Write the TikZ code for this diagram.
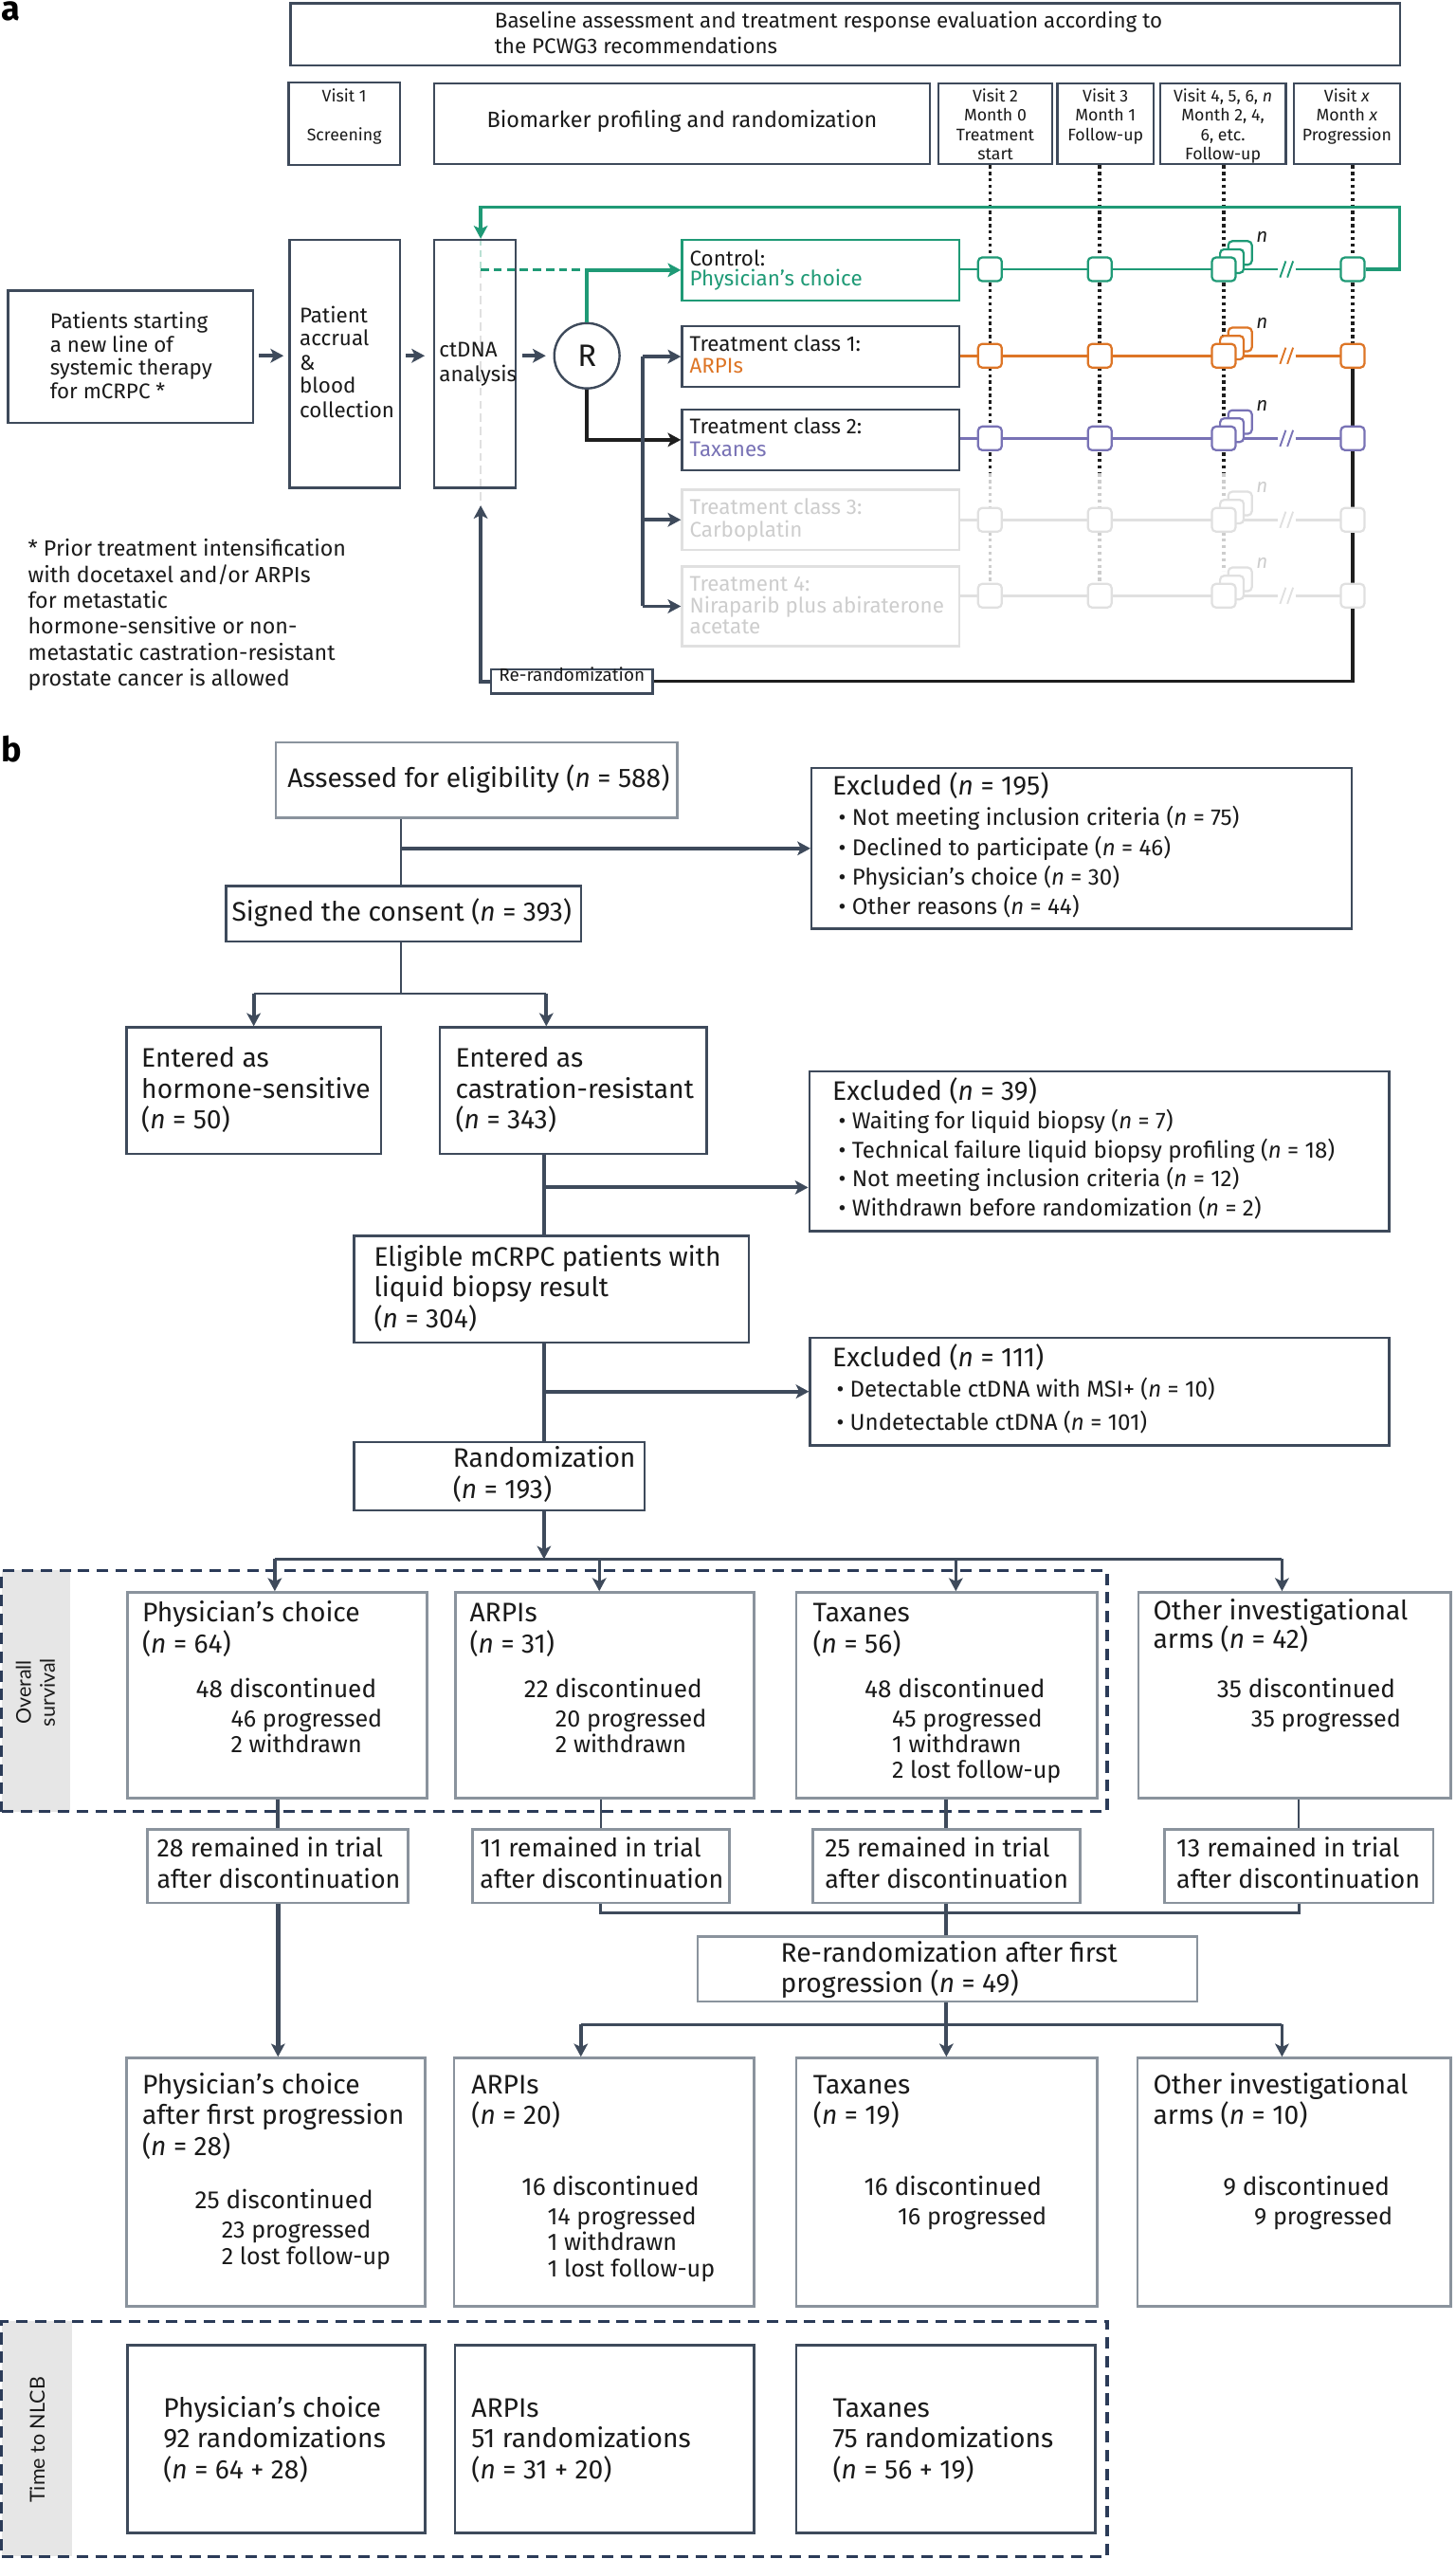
\documentclass[tikz,border=0pt]{standalone}
\usepackage{fontspec}
\setmainfont{Fira Sans}
\newfontfamily\labfont{Lato}
\usetikzlibrary{arrows.meta,fit}
\definecolor{dk}{HTML}{3E4A5B}
\definecolor{lt}{HTML}{8A939D}
\definecolor{navy}{HTML}{2B3B58}
\definecolor{grn}{HTML}{1F9A76}
\definecolor{lgrn}{HTML}{B9E0D3}
\definecolor{org}{HTML}{DD7526}
\definecolor{pur}{HTML}{7872B5}
\definecolor{lgr}{HTML}{E0E0E0}
\definecolor{lgt}{HTML}{CDCDCD}
\definecolor{strip}{HTML}{E6E6E6}
\definecolor{txt}{HTML}{1A1A1A}
\definecolor{blk}{HTML}{1E1E1E}
\pgfdeclarelayer{background}
\pgfsetlayers{background,main}
\tikzset{
 fA/.style={font=\fontsize{13}{15}\selectfont},
 fN/.style={font=\fontsize{13.5}{15}\selectfont},
 fV/.style={font=\fontsize{10.3}{12}\selectfont},
 fB/.style={font=\fontsize{16.4}{18}\selectfont},
 fM/.style={font=\fontsize{15.6}{18}\selectfont},
 fD/.style={font=\fontsize{15.2}{18}\selectfont},
 fS/.style={font=\fontsize{14}{15}\selectfont},
 fP/.style={font=\fontsize{14.6}{15}\selectfont},
 tl/.style={anchor=base west, inner sep=0pt, text=txt},
 tc/.style={anchor=base, inner sep=0pt, text=txt},
 dbox/.style={draw=dk, line width=1.4pt, inner sep=0pt},
 lbox/.style={draw=lt, line width=1.5pt, inner sep=0pt},
 gbox/.style={draw=lgr, line width=1.4pt, inner sep=0pt},
 vsq/.style={draw=#1, fill=white, line width=1.3pt, rounded corners=2.5pt, minimum size=14.5pt, inner sep=0pt},
 ahd/.style={-{Stealth[length=8pt,width=8.5pt,inset=2pt]}},
 darr/.style={draw=dk, line width=2.2pt, ahd},
 ln1/.style={draw=dk, line width=1.4pt},
 ln2/.style={draw=dk, line width=2.4pt},
 dotln/.style={line width=2pt, dash pattern=on 2pt off 2pt},
 osbox/.style={draw=navy, line width=2pt, dash pattern=on 7pt off 4.5pt},
}
\begin{document}
\begin{tikzpicture}[x=1pt,y=-1pt]
\useasboundingbox (0,0) rectangle (892,1568);

% ================= PART A =================
\node[anchor=base west, inner sep=0pt, font=\fontsize{21}{21}\selectfont\bfseries] (la) at (0.5,12.5) {a};

\node[dbox, fit={(178,2) (858,40)}] (base) {};
\node[tl,fA] (bt1) at (303,17.4) {Baseline assessment and treatment response evaluation according to};
\node[tl,fA] (bt2) at (303,33) {the PCWG3 recommendations};

\node[dbox, fit={(177,50.5) (245,101)}] (v1) {};
\node[tc,fV] (v1a) at (211,62.4) {Visit 1};
\node[tc,fV] (v1b) at (211,86.2) {Screening};

\node[dbox, fit={(266,51) (570,100.5)}] (bio) {};
\node[tc,font=\fontsize{13.6}{15}\selectfont] (biot) at (418,78.4) {Biomarker profiling and randomization};

\node[dbox, fit={(575,51) (645,100.5)}] (v2) {};
\node[tc,fV] (v2a) at (610,62.4) {Visit 2};
\node[tc,fV] (v2b) at (610,74.2) {Month 0};
\node[tc,fV] (v2c) at (610,86.4) {Treatment};
\node[tc,fV] (v2d) at (610,97.8) {start};

\node[dbox, fit={(648,51) (707,100.5)}] (v3) {};
\node[tc,fV] (v3a) at (677.5,62.4) {Visit 3};
\node[tc,fV] (v3b) at (677.5,74.2) {Month 1};
\node[tc,fV] (v3c) at (677.5,86.4) {Follow-up};

\node[dbox, fit={(711,51) (788,100.5)}] (v4) {};
\node[tc,fV] (v4a) at (749.5,62.4) {Visit 4, 5, 6, \textit{n}};
\node[tc,fV] (v4b) at (749.5,74.2) {Month 2, 4,};
\node[tc,fV] (v4c) at (749.5,86.4) {6, etc.};
\node[tc,fV] (v4d) at (749.5,97.8) {Follow-up};

\node[dbox, fit={(793,51) (858,100.5)}] (vx) {};
\node[tc,fV] (vxa) at (825.5,62.4) {Visit \textit{x}};
\node[tc,fV] (vxb) at (825.5,74.2) {Month \textit{x}};
\node[tc,fV] (vxc) at (825.5,86.4) {Progression};

% left column
\node[dbox, fit={(5,178) (155,259)}] (pat) {};
\node[tl,fA] (pt1) at (30.5,201.4) {Patients starting};
\node[tl,fA] (pt2) at (30.5,215.6) {a new line of};
\node[tl,fA] (pt3) at (30.5,230) {systemic therapy};
\node[tl,fA] (pt4) at (30.5,244) {for mCRPC *};

\node[dbox, fit={(177.5,147) (245,299)}] (acc) {};
\node[tl,fA] (ac1) at (183.5,197.6) {Patient};
\node[tl,fA] (ac2) at (183.5,212) {accrual};
\node[tl,fA] (ac3) at (183.5,226.6) {\&};
\node[tl,fA] (ac4) at (183.5,241) {blood};
\node[tl,fA] (ac5) at (183.5,255.8) {collection};

\node[dbox, fit={(266,147) (316,299)}] (ctd) {};
\node[tl,fA] (ct1) at (269,219) {ctDNA};
\node[tl,fA] (ct2) at (269,233.7) {analysis};

\node[draw=dk, line width=1.4pt, circle, minimum size=40pt, inner sep=0pt, font=\fontsize{19}{19}\selectfont, text=txt] (rnd) at (359.7,218) {R};

% treatment boxes
\node[draw=grn, line width=1.4pt, inner sep=0pt, fit={(418,147) (588,184)}] (tb1) {};
\node[tl,fA] (tb1a) at (422.5,162.7) {Control:};
\node[tl,fA,text=grn] (tb1b) at (422.5,175.3) {Physician’s choice};
\node[dbox, fit={(418,200) (588,237)}] (tb2) {};
\node[tl,fA] (tb2a) at (422.5,215) {Treatment class 1:};
\node[tl,fA,text=org] (tb2b) at (422.5,228.5) {ARPIs};
\node[dbox, fit={(418,251) (588,288)}] (tb3) {};
\node[tl,fA] (tb3a) at (422.5,265.7) {Treatment class 2:};
\node[tl,fA,text=pur] (tb3b) at (422.5,279.9) {Taxanes};
\node[gbox, fit={(418,300) (588,337)}] (tb4) {};
\node[tl,fA,text=lgt] (tb4a) at (422.5,315.3) {Treatment class 3:};
\node[tl,fA,text=lgt] (tb4b) at (422.5,329.3) {Carboplatin};
\node[gbox, fit={(418,347) (588,396)}] (tb5) {};
\node[tl,fA,text=lgt] (tb5a) at (422.5,362) {Treatment 4:};
\node[tl,fA,text=lgt] (tb5b) at (422.5,375.8) {Niraparib plus abiraterone};
\node[tl,fA,text=lgt] (tb5c) at (422.5,388.4) {acetate};

\node[dbox, fit={(301,410) (400,425)}, font=\fontsize{11}{12}\selectfont, text=txt] (rr) {Re-randomization};

% footnote
\node[tl,fN] (fn1) at (17,341) {* Prior treatment intensification};
\node[tl,fN] (fn2) at (17,357) {with docetaxel and/or ARPIs};
\node[tl,fN] (fn3) at (17,372.9) {for metastatic};
\node[tl,fN] (fn4) at (17,388.6) {hormone-sensitive or non-};
\node[tl,fN] (fn5) at (17,404.8) {metastatic castration-resistant};
\node[tl,fN] (fn6) at (17,420.3) {prostate cancer is allowed};

% visit squares on rows
\foreach \r/\c/\y/\nc in {1/grn/165/txt, 2/org/218/txt, 3/pur/268.6/txt, 4/lgr/318.5/lgt, 5/lgr/365/lgt} {
  \begin{pgfonlayer}{background}
    \draw[line width=1.6pt, draw=\c] (tb\r.east |- 0,\y) -- (783,\y) (794,\y) -- (829,\y);
  \end{pgfonlayer}
  \draw[line width=1.1pt, draw=\c] (784.5,\y+5) -- (788,\y-5) (789,\y+5) -- (792.5,\y-5);
  \node[vsq=\c] (sA\r) at (606.7,\y) {};
  \node[vsq=\c] (sB\r) at (674,\y) {};
  \node[vsq=\c] (sCc\r) at (760,\y-10) {};
  \node[vsq=\c] (sCb\r) at (755,\y-5) {};
  \node[vsq=\c] (sC\r) at (750,\y) {};
  \node[vsq=\c] (sD\r) at (829,\y) {};
  \node[inner sep=0pt, font=\fontsize{12}{12}\selectfont\itshape, text=\nc] (nn\r) at (773.5,\y-20) {n};
}

\coordinate (ctx) at (294.6,0);
\coordinate (bt) at (394,218.5);

\begin{pgfonlayer}{background}
  % dotted visit lines
  \foreach \s in {A,B} {
    \draw[blk, dotln] (v2.south -| s\s1) -- (s\s1 |- 0,290);
    \draw[lgt, dotln] (s\s1 |- 0,290) -- (s\s5.north);
  }
  \draw[blk, dotln] (v4.south -| sC1) -- (sC1 |- 0,290);
  \draw[lgt, dotln] (sC1 |- 0,290) -- (sC1 |- 0,350);
  \draw[blk, dotln] (vx.south -| sD1) -- (sD2.north);
  \draw[blk, line width=1.8pt] (sD2.south) -- (sD2 |- rr.east) -- (rr.east);
  % ctDNA dashed guide
  \draw[lgrn, line width=1.3pt, dash pattern=on 4pt off 3pt] (ctx |- ctd.north) -- (ctx |- tb1.west);
  \draw[lgr, line width=1.3pt, dash pattern=on 5pt off 3pt] (ctx |- tb1.west) -- (ctx |- 0,309);
\end{pgfonlayer}

% green loop
\draw[grn, line width=2pt, ahd] (sD1.east) -- (857.7,165) -- (857.7,127) -- (ctx |- 0,127) -- (ctx |- ctd.north);
\draw[grn, line width=1.6pt, dash pattern=on 5pt off 3pt] (ctx |- tb1.west) -- (rnd.north |- tb1.west);
\draw[grn, line width=2.4pt, ahd] (rnd.north) -- (rnd.north |- tb1.west) -- (tb1.west);

% main arrows
\draw[darr, shorten <=3pt, shorten >=3pt] (pat.east |- rnd) -- (acc.west |- rnd);
\draw[darr, shorten <=3pt, shorten >=5pt] (acc.east |- rnd) -- (ctd.west |- rnd);
\draw[darr, shorten <=3.5pt, shorten >=4.5pt] (ctd.east |- rnd) -- (rnd.west);
\draw[blk, line width=2.4pt, ahd] (rnd.south) -- (rnd.south |- tb3.west) -- (tb3.west);
\draw[darr] (bt) -- (tb2.west);
\draw[ln2, line width=2.2pt] (bt) -- (bt |- tb5.west);
\draw[darr] (bt |- tb4.west) -- (tb4.west);
\draw[darr] (bt |- tb5.west) -- (tb5.west);
\draw[darr, shorten >=10pt] (rr.west) -- (rr.west -| ctx) -- (ctx |- ctd.south);

% ================= PART B =================
\node[anchor=base west, inner sep=0pt, font=\fontsize{21}{21}\selectfont\bfseries] (lb) at (0.5,466.6) {b};

% dashed groups
\begin{pgfonlayer}{background}
  \fill[strip] (1,962.3) rectangle (42.8,1110);
  \fill[strip] (1,1422.3) rectangle (44,1566.5);
\end{pgfonlayer}
\node[osbox, inner sep=0pt, fit={(1,962.3) (678.6,1110)}] (os) {};
\node[osbox, inner sep=0pt, fit={(1,1422.3) (678.6,1566.5)}] (nl) {};
\node[rotate=90, align=center, inner sep=0pt, text=txt, font=\labfont\fontsize{12.5}{14.6}\selectfont] (ost) at (21.7,1037) {Overall\\survival};
\node[rotate=90, inner sep=0pt, text=txt, font=\labfont\fontsize{12.5}{14}\selectfont] (nlt) at (22.8,1495) {Time to NLCB};

\node[lbox, fit={(169,455) (415,501)}] (asm) {};
\node[tl,fB] (asmt) at (176,482.3) {Assessed for eligibility (\textit{n} = 588)};

\node[dbox, fit={(497.4,470.7) (828.5,569)}] (ex1) {};
\node[tl,fB] (ex1t) at (510,487.1) {Excluded (\textit{n} = 195)};
\node[tl,fS] (ex1a) at (513.7,506) {• Not meeting inclusion criteria (\textit{n} = 75)};
\node[tl,fS] (ex1b) at (513.7,524.5) {• Declined to participate (\textit{n} = 46)};
\node[tl,fS] (ex1c) at (513.7,542.4) {• Physician’s choice (\textit{n} = 30)};
\node[tl,fS] (ex1d) at (513.7,560.4) {• Other reasons (\textit{n} = 44)};

\node[dbox, fit={(138.5,542.8) (356,576.8)}] (sig) {};
\node[tl,fB] (sigt) at (141.9,564.6) {Signed the consent (\textit{n} = 393)};

\node[dbox, fit={(77.6,629.5) (233.5,707)}] (hor) {};
\node[tl,fB] (hor1) at (86.5,653.7) {Entered as};
\node[tl,fB] (hor2) at (86.5,673) {hormone-sensitive};
\node[tl,fB] (hor3) at (86.5,691.5) {(\textit{n} = 50)};

\node[dbox, fit={(269.7,629.5) (433,707)}] (cas) {};
\node[tl,fB] (cas1) at (279,653.7) {Entered as};
\node[tl,fB] (cas2) at (279,673) {castration-resistant};
\node[tl,fB] (cas3) at (279,691.5) {(\textit{n} = 343)};

\node[dbox, fit={(496,656.6) (851.3,754.4)}] (ex2) {};
\node[tl,fB] (ex2t) at (510,674) {Excluded (\textit{n} = 39)};
\node[tl,fS] (ex2a) at (513.7,691.9) {• Waiting for liquid biopsy (\textit{n} = 7)};
\node[tl,fS] (ex2b) at (513.7,709.9) {• Technical failure liquid biopsy profiling (\textit{n} = 18)};
\node[tl,fS] (ex2c) at (513.7,727.3) {• Not meeting inclusion criteria (\textit{n} = 12)};
\node[tl,fS] (ex2d) at (513.7,745.2) {• Withdrawn before randomization (\textit{n} = 2)};

\node[dbox, fit={(216.9,757.3) (459,822.6)}] (eli) {};
\node[tl,fB] (eli1) at (229,775.8) {Eligible mCRPC patients with};
\node[tl,fB] (eli2) at (229,794.2) {liquid biopsy result};
\node[tl,fB] (eli3) at (229,813.5) {(\textit{n} = 304)};

\node[dbox, fit={(496.5,819.7) (851.3,885.6)}] (ex3) {};
\node[tl,fB] (ex3t) at (510,837.7) {Excluded (\textit{n} = 111)};
\node[tl,fS] (ex3a) at (512.5,856.1) {• Detectable ctDNA with MSI+ (\textit{n} = 10)};
\node[tl,fS] (ex3b) at (512.5,876.1) {• Undetectable ctDNA (\textit{n} = 101)};

\node[dbox, fit={(216.9,883.7) (395,925.5)}] (rnz) {};
\node[tl,fB] (rnz1) at (277.4,899.3) {Randomization};
\node[tl,fB] (rnz2) at (277.4,918.2) {(\textit{n} = 193)};

% arms
\node[lbox, fill=white, fit={(78,975.7) (261.7,1101.8)}] (a1) {};
\node[tl,fB] (a1a) at (87,993.7) {Physician’s choice};
\node[tl,fB] (a1b) at (87,1013) {(\textit{n} = 64)};
\node[tl,fD] (a1c) at (119.9,1040.2) {48 discontinued};
\node[tl,fP] (a1d) at (141.3,1058.2) {46 progressed};
\node[tl,fP] (a1e) at (141.3,1074) {2 withdrawn};

\node[lbox, fill=white, fit={(279,975.7) (462.3,1101.8)}] (a2) {};
\node[tl,fB] (a2a) at (287.7,993.7) {ARPIs};
\node[tl,fB] (a2b) at (287.7,1013) {(\textit{n} = 31)};
\node[tl,fD] (a2c) at (321,1040.2) {22 discontinued};
\node[tl,fP] (a2d) at (340.2,1058.2) {20 progressed};
\node[tl,fP] (a2e) at (340.2,1074) {2 withdrawn};

\node[lbox, fill=white, fit={(488,975.7) (672.4,1101.8)}] (a3) {};
\node[tl,fB] (a3a) at (498,993.7) {Taxanes};
\node[tl,fB] (a3b) at (498,1013) {(\textit{n} = 56)};
\node[tl,fD] (a3c) at (529.7,1040.2) {48 discontinued};
\node[tl,fP] (a3d) at (546.5,1058.2) {45 progressed};
\node[tl,fP] (a3e) at (546.5,1074) {1 withdrawn};
\node[tl,fP] (a3f) at (546.5,1089.6) {2 lost follow-up};

\node[lbox, fit={(697.7,975.7) (889,1101.8)}] (a4) {};
\node[tl,fB] (a4a) at (706.6,992.3) {Other investigational};
\node[tl,fB] (a4b) at (706.6,1010.1) {arms (\textit{n} = 42)};
\node[tl,fD] (a4c) at (745.6,1040.2) {35 discontinued};
\node[tl,fP] (a4d) at (766.6,1058.2) {35 progressed};

% remained
\node[lbox, fit={(90.2,1121) (250,1166)}] (m1) {};
\node[tl,fM] (m1a) at (96,1138) {28 remained in trial};
\node[tl,fM] (m1b) at (96,1156.8) {after discontinuation};
\node[lbox, fit={(289.7,1121) (447,1166)}] (m2) {};
\node[tl,fM] (m2a) at (294,1138) {11 remained in trial};
\node[tl,fM] (m2b) at (294,1156.8) {after discontinuation};
\node[lbox, fit={(498.2,1121) (662,1166)}] (m3) {};
\node[tl,fM] (m3a) at (505.4,1138) {25 remained in trial};
\node[tl,fM] (m3b) at (505.4,1156.8) {after discontinuation};
\node[lbox, fit={(713.6,1121) (878.4,1166)}] (m4) {};
\node[tl,fM] (m4a) at (720.9,1138) {13 remained in trial};
\node[tl,fM] (m4b) at (720.9,1156.8) {after discontinuation};

\node[lbox, fit={(427.6,1186.6) (733.7,1226.5)}] (rr2) {};
\node[tl,fB] (rr2a) at (478.3,1202.5) {Re-randomization after first};
\node[tl,fB] (rr2b) at (478.3,1220.9) {progression (\textit{n} = 49)};

% second row
\node[lbox, fit={(77.6,1261) (260.6,1413)}] (b1) {};
\node[tl,fB] (b1a) at (87,1283) {Physician’s choice};
\node[tl,fB] (b1b) at (87,1301.9) {after first progression};
\node[tl,fB] (b1c) at (87,1320.5) {(\textit{n} = 28)};
\node[tl,fD] (b1d) at (119.3,1353.4) {25 discontinued};
\node[tl,fP] (b1e) at (135.6,1371.4) {23 progressed};
\node[tl,fP] (b1f) at (135.6,1387.7) {2 lost follow-up};

\node[lbox, fit={(278.3,1261) (462.3,1413)}] (b2) {};
\node[tl,fB] (b2a) at (288.8,1283) {ARPIs};
\node[tl,fB] (b2b) at (288.8,1301.9) {(\textit{n} = 20)};
\node[tl,fD] (b2c) at (319.6,1345.3) {16 discontinued};
\node[tl,fP] (b2d) at (335.3,1363.2) {14 progressed};
\node[tl,fP] (b2e) at (335.3,1379) {1 withdrawn};
\node[tl,fP] (b2f) at (335.3,1394.9) {1 lost follow-up};

\node[lbox, fit={(488,1261) (672.4,1413)}] (b3) {};
\node[tl,fB] (b3a) at (498.2,1283) {Taxanes};
\node[tl,fB] (b3b) at (498.2,1301.9) {(\textit{n} = 19)};
\node[tl,fD] (b3c) at (529.4,1345.3) {16 discontinued};
\node[tl,fP] (b3d) at (550,1363.2) {16 progressed};

\node[lbox, fit={(697.2,1261) (889,1413)}] (b4) {};
\node[tl,fB] (b4a) at (706.6,1283) {Other investigational};
\node[tl,fB] (b4b) at (706.6,1301.9) {arms (\textit{n} = 10)};
\node[tl,fD] (b4c) at (749.4,1345.3) {9 discontinued};
\node[tl,fP] (b4d) at (768.5,1363.2) {9 progressed};

% bottom (time to NLCB)
\node[dbox, line width=1.6pt, fit={(78.2,1437) (260.6,1552.2)}] (c1) {};
\node[tl,fB] (c1a) at (99.9,1480.9) {Physician’s choice};
\node[tl,fB] (c1b) at (99.9,1499.8) {92 randomizations};
\node[tl,fB] (c1c) at (99.9,1518.7) {(\textit{n} = 64 + 28)};
\node[dbox, line width=1.6pt, fit={(278.9,1437) (462.3,1552.2)}] (c2) {};
\node[tl,fB] (c2a) at (288.8,1480.9) {ARPIs};
\node[tl,fB] (c2b) at (288.8,1499.8) {51 randomizations};
\node[tl,fB] (c2c) at (288.8,1518.7) {(\textit{n} = 31 + 20)};
\node[dbox, line width=1.6pt, fit={(488,1437) (671.5,1552.2)}] (c3) {};
\node[tl,fB] (c3a) at (510.2,1480.9) {Taxanes};
\node[tl,fB] (c3b) at (510.2,1499.8) {75 randomizations};
\node[tl,fB] (c3c) at (510.2,1518.7) {(\textit{n} = 56 + 19)};

% ---- connectors part b
\coordinate (xa) at (245.8,0);
\coordinate (xm) at (333.4,0);
\coordinate (jh) at (155.5,609);
\coordinate (jc) at (334.8,609);
\coordinate (jd) at (333.4,727.6);
\draw[ln1] (asm.south -| xa) -- (sig.north -| xa);
\draw[darr, line width=2.4pt] (xa |- ex1.west) -- (ex1.west);
\draw[ln1] (sig.south -| xa) -- (xa |- jh);
\draw[ln1] (jh) -- (jc);
\draw[darr] (jh) -- (hor.north -| jh);
\draw[darr] (jc) -- (cas.north -| jc);
\draw[ln2] (cas.south -| xm) -- (eli.north -| xm);
\draw[darr, line width=2.4pt] (jd) -- (ex2.west |- jd);
\draw[ln2] (eli.south -| xm) -- (rnz.north -| xm);
\draw[darr, line width=2.4pt] (xm |- ex3.west) -- (ex3.west);

\coordinate (ja1) at (168.4,955.3);
\coordinate (ja2) at (367.3,955.3);
\coordinate (ja3) at (585.8,955.3);
\coordinate (ja4) at (785.7,955.3);
\draw[darr, line width=2pt] (rnz.south -| xm) -- (xm |- ja1);
\draw[ln1, line width=1.6pt] (ja1) -- (ja4);
\draw[darr, line width=2pt] (ja1) -- (a1.north -| ja1);
\draw[darr, line width=2pt] (ja2) -- (a2.north -| ja2);
\draw[darr, line width=2pt] (ja3) -- (a3.north -| ja3);
\draw[darr, line width=2pt] (ja4) -- (a4.north -| ja4);

\coordinate (xb1) at (170.4,0);
\coordinate (xb2) at (368.2,0);
\coordinate (xb3) at (580,0);
\coordinate (xb4) at (796,0);
\draw[ln2] (a1.south -| xb1) -- (m1.north -| xb1);
\draw[ln1] (a2.south -| xb2) -- (m2.north -| xb2);
\draw[ln2] (a3.south -| xb3) -- (m3.north -| xb3);
\draw[ln1] (a4.south -| xb4) -- (m4.north -| xb4);

\draw[darr, line width=2.6pt] (m1.south -| xb1) -- (b1.north -| xb1);
\draw[ln1, line width=1.6pt] (m2.south -| xb2) -- (xb2 |- 0,1172) -- (xb4 |- 0,1172) -- (m4.south -| xb4);
\draw[ln2] (m3.south -| xb3) -- (rr2.north -| xb3);

\coordinate (jr1) at (356,1240.4);
\coordinate (jr3) at (785.7,1240.4);
\draw[ln2] (rr2.south -| xb3) -- (xb3 |- jr1);
\draw[ln1, line width=1.6pt] (jr1) -- (jr3);
\draw[darr, line width=2pt] (jr1) -- (b2.north -| jr1);
\draw[darr, line width=2.4pt] (xb3 |- jr1) -- (b3.north -| xb3);
\draw[darr, line width=2pt] (jr3) -- (b4.north -| jr3);

\end{tikzpicture}
\end{document}
